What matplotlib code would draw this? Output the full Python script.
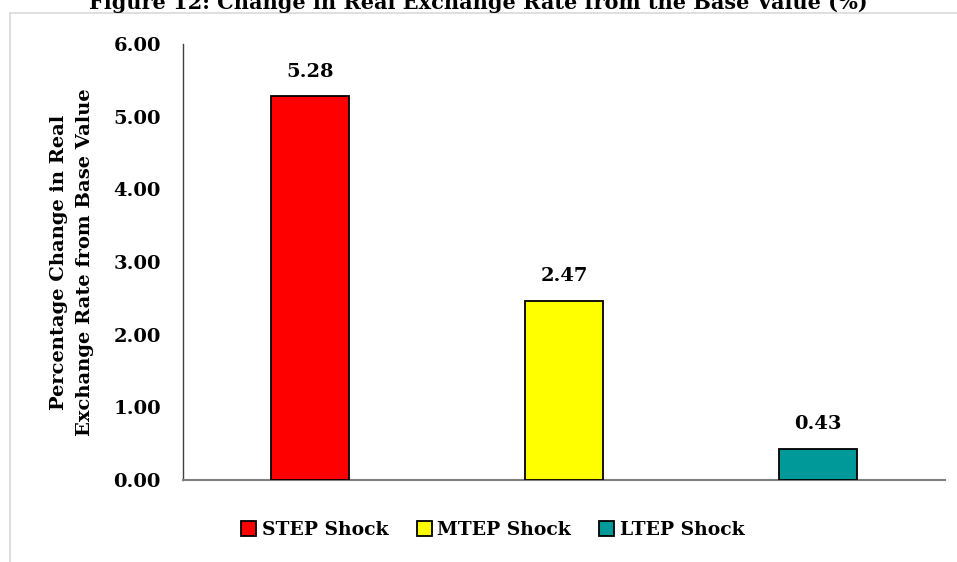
import matplotlib
matplotlib.use("Agg")
import matplotlib.pyplot as plt
from matplotlib.lines import Line2D
from matplotlib.patches import Patch

categories = ["STEP Shock", "MTEP Shock", "LTEP Shock"]
values = [5.28, 2.47, 0.43]
colors = ["#FF0000", "#FFFF00", "#009999"]
yticks = [0, 1, 2, 3, 4, 5, 6]
title = "Figure 12: Change in Real Exchange Rate from the Base Value (%)"
ylabel = "Percentage Change in Real\nExchange Rate from Base Value"

plt.rcParams["font.family"] = ["DejaVu Serif"]
plt.rcParams["font.weight"] = "bold"

W, H = 957, 562
fig = plt.figure(figsize=(W / 100, H / 100), dpi=100)
ax = fig.add_axes([183 / W, 1 - 480 / H, (945 - 183) / W, (480 - 44) / H])

x = list(range(len(categories)))
ax.bar(x, values, width=0.31, color=colors, edgecolor="black", linewidth=1.3, zorder=3)
for xi, v in zip(x, values):
    ax.annotate(f"{v:.2f}", (xi, v), xytext=(0, 11), textcoords="offset points",
                ha="center", va="bottom", fontsize=14, fontweight="bold")

ax.set_xlim(-0.5, len(categories) - 0.5)
ax.set_ylim(0, 6)
ax.set_yticks(yticks)
ax.set_yticklabels([f"{t:.2f}" for t in yticks], fontsize=14, fontweight="bold")
ax.set_xticks([])
ax.tick_params(axis="y", length=0, pad=16)
for s in ("top", "right"):
    ax.spines[s].set_visible(False)
ax.spines["left"].set_color("#404040")
ax.spines["left"].set_linewidth(1.0)
ax.spines["bottom"].set_color("#7f7f7f")
ax.spines["bottom"].set_linewidth(1.5)

ax.set_ylabel(ylabel, fontsize=14, fontweight="bold", linespacing=1.55, labelpad=14)

handles = [Patch(facecolor=c, edgecolor="black", linewidth=1.3) for c in colors]
fig.legend(handles, categories, loc="center", bbox_to_anchor=(493 / W, 1 - 530 / H),
           ncol=3, frameon=False, handlelength=0.8, handleheight=0.8,
           handletextpad=0.3, columnspacing=1.5, prop={"weight": "bold", "size": 13.5})

# outer chart-area border
fig.add_artist(Line2D([10 / W, 1.0], [1 - 13 / H, 1 - 13 / H], color="#d9d9d9", lw=1.2))
fig.add_artist(Line2D([10 / W, 10 / W], [0, 1 - 13 / H], color="#d9d9d9", lw=1.2))

fig.text(478 / W, 1 - 9 / H, title, ha="center", va="baseline", fontsize=15, fontweight="bold")

fig.savefig("out.png", dpi=100)
